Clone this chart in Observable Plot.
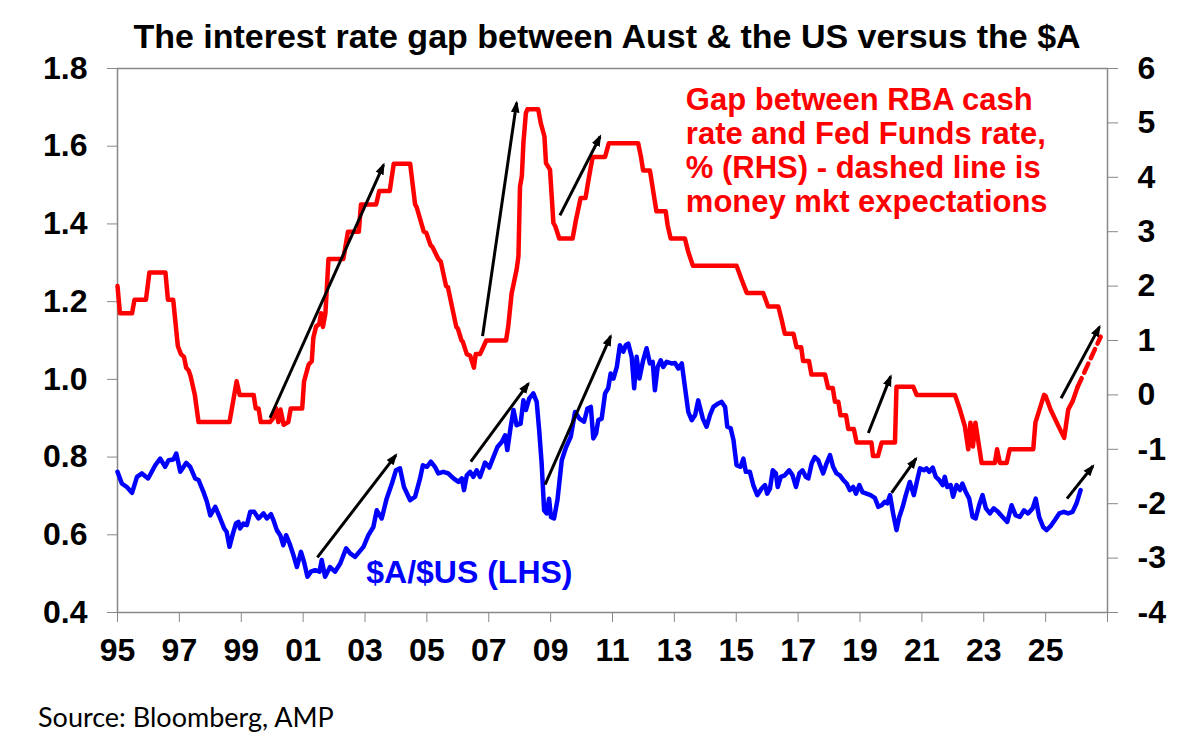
<!DOCTYPE html>
<html>
<head>
<meta charset="utf-8">
<script src="https://cdn.jsdelivr.net/npm/d3@7"></script>
<script src="https://cdn.jsdelivr.net/npm/@observablehq/plot@0.6"></script>
<style>
  body { margin: 0; background: #fff; }
  #wrap { position: relative; width: 1187px; height: 753px; overflow: hidden; background: #fff; }
  #title { position: absolute; left: 0; top: 19px; width: 1214px; text-align: center;
           font-family: "Liberation Sans", Arial, sans-serif; font-weight: bold; font-size: 34px; line-height: 34px; color: #000; }
  #chart { position: absolute; left: 0; top: 56px; }
  #source { position: absolute; left: 38px; top: 703px; font-family: Lato, "Open Sans", sans-serif;
            font-size: 27px; line-height: 27px; color: #000; }
</style>
</head>
<body>
<div id="wrap">
  <div id="title">The interest rate gap between Aust &amp; the US versus the $A</div>
  <div id="chart"></div>
  <div id="source">Source: Bloomberg, AMP</div>
</div>
<script>
// ---- Data ----
const leftTicks = [0.4, 0.6, 0.8, 1.0, 1.2, 1.4, 1.6, 1.8];
const rightTicks = [-4, -3, -2, -1, 0, 1, 2, 3, 4, 5, 6];
const xTicks = [1995, 1997, 1999, 2001, 2003, 2005, 2007, 2009, 2011, 2013, 2015, 2017, 2019, 2021, 2023, 2025, 2027];

// RBA cash rate minus Fed Funds rate, % (RHS)  [year, gap]
const rateGap = [
  [1995.00, 2.0], [1995.08, 1.5], [1995.47, 1.5], [1995.55, 1.75], [1995.92, 1.75], [1996.03, 2.25],
  [1996.55, 2.25], [1996.63, 1.75], [1996.80, 1.75], [1996.95, 0.9], [1997.05, 0.75], [1997.15, 0.7],
  [1997.22, 0.5], [1997.30, 0.45], [1997.36, 0.35], [1997.50, 0.0], [1997.62, -0.5], [1998.62, -0.5],
  [1998.85, 0.25], [1998.95, 0.0], [1999.40, 0.0], [1999.47, -0.25], [1999.56, -0.25], [1999.63, -0.5],
  [1999.93, -0.5], [2000.04, -0.42], [2000.12, -0.24], [2000.20, -0.5], [2000.27, -0.27], [2000.37, -0.55],
  [2000.52, -0.5], [2000.60, -0.25], [2000.97, -0.25], [2001.03, 0.25], [2001.18, 0.56], [2001.28, 0.62],
  [2001.33, 1.05], [2001.42, 1.26], [2001.52, 1.3], [2001.58, 1.5], [2001.64, 1.25], [2001.72, 1.5],
  [2001.82, 2.5], [2002.30, 2.5], [2002.45, 3.0], [2002.80, 3.0], [2002.87, 3.5], [2003.36, 3.5],
  [2003.46, 3.75], [2003.80, 3.75], [2003.93, 4.25], [2004.46, 4.25], [2004.62, 3.5], [2004.67, 3.45],
  [2004.90, 3.0], [2004.98, 2.98], [2005.12, 2.75], [2005.18, 2.72], [2005.37, 2.5], [2005.45, 2.45],
  [2005.62, 2.0], [2005.68, 1.98], [2005.95, 1.25], [2006.00, 1.22], [2006.12, 1.0], [2006.16, 0.98],
  [2006.29, 0.75], [2006.40, 0.72], [2006.52, 0.5], [2006.58, 0.75], [2006.72, 0.75], [2006.92, 1.0],
  [2007.56, 1.0], [2007.63, 1.26], [2007.74, 1.87], [2007.90, 2.3], [2007.96, 2.55], [2008.01, 3.83],
  [2008.07, 4.02], [2008.12, 4.63], [2008.20, 5.18], [2008.25, 5.25], [2008.60, 5.25], [2008.68, 5.0],
  [2008.80, 4.75], [2008.85, 4.26], [2008.98, 4.14], [2009.09, 3.16], [2009.15, 3.1], [2009.28, 2.875],
  [2009.71, 2.875], [2009.82, 3.22], [2009.97, 3.62], [2010.13, 3.62], [2010.20, 3.87], [2010.27, 4.1],
  [2010.36, 4.375], [2010.76, 4.375], [2010.88, 4.625], [2011.83, 4.625], [2011.92, 4.375], [2011.99, 4.125],
  [2012.21, 4.125], [2012.42, 3.375], [2012.72, 3.375], [2012.78, 3.125], [2012.88, 2.875], [2013.34, 2.875],
  [2013.45, 2.625], [2013.60, 2.375], [2015.01, 2.375], [2015.17, 2.125], [2015.34, 1.875], [2015.87, 1.875],
  [2016.03, 1.625], [2016.36, 1.625], [2016.47, 1.375], [2016.57, 1.125], [2016.85, 1.125], [2016.95, 0.875],
  [2017.10, 0.875], [2017.16, 0.625], [2017.35, 0.625], [2017.43, 0.375], [2017.87, 0.375], [2017.97, 0.125],
  [2018.12, 0.125], [2018.19, -0.125], [2018.30, -0.125], [2018.37, -0.375], [2018.55, -0.375], [2018.62, -0.625],
  [2018.80, -0.625], [2018.89, -0.875], [2019.37, -0.875], [2019.42, -1.125], [2019.58, -1.125], [2019.70, -0.875],
  [2020.13, -0.875], [2020.18, 0.15], [2020.72, 0.15], [2020.83, 0.0], [2022.07, 0.0], [2022.23, -0.27],
  [2022.39, -0.58], [2022.50, -1.0], [2022.57, -0.51], [2022.65, -0.95], [2022.73, -0.51], [2022.93, -1.25],
  [2023.36, -1.25], [2023.43, -1.0], [2023.52, -1.25], [2023.74, -1.25], [2023.84, -1.0], [2024.60, -1.0],
  [2024.67, -0.51], [2024.95, 0.0], [2025.00, -0.02], [2025.16, -0.27], [2025.36, -0.51], [2025.60, -0.79],
  [2025.73, -0.27], [2025.87, -0.12], [2026.03, 0.14]
];
// money market expectations (dashed)
const rateGapExpected = [[2026.03, 0.14], [2026.40, 0.6], [2026.78, 1.07]];

// $A/$US (LHS)  [year, rate]
const audUsd = [
  [1995.00, 0.762], [1995.14, 0.732], [1995.30, 0.723], [1995.47, 0.708], [1995.63, 0.749], [1995.79, 0.758],
  [1995.99, 0.745], [1996.22, 0.779], [1996.38, 0.796], [1996.54, 0.775], [1996.65, 0.792], [1996.81, 0.794],
  [1996.90, 0.809], [1997.03, 0.762], [1997.22, 0.785], [1997.35, 0.775], [1997.51, 0.745], [1997.62, 0.741],
  [1997.78, 0.71], [1997.89, 0.685], [1998.00, 0.65], [1998.16, 0.672], [1998.32, 0.642], [1998.45, 0.616],
  [1998.53, 0.607], [1998.62, 0.569], [1998.73, 0.603], [1998.83, 0.629], [1998.91, 0.633], [1998.96, 0.616],
  [1999.07, 0.629], [1999.18, 0.625], [1999.29, 0.659], [1999.42, 0.659], [1999.56, 0.642], [1999.72, 0.655],
  [1999.83, 0.642], [1999.96, 0.653], [2000.04, 0.638], [2000.15, 0.612], [2000.26, 0.599], [2000.36, 0.573],
  [2000.45, 0.599], [2000.56, 0.578], [2000.67, 0.552], [2000.80, 0.517], [2000.93, 0.556], [2001.03, 0.53],
  [2001.14, 0.492], [2001.25, 0.505], [2001.39, 0.509], [2001.53, 0.505], [2001.60, 0.535], [2001.71, 0.492],
  [2001.87, 0.517], [2002.03, 0.505], [2002.20, 0.526], [2002.39, 0.565], [2002.52, 0.552], [2002.68, 0.543],
  [2002.95, 0.569], [2003.11, 0.599], [2003.27, 0.62], [2003.38, 0.663], [2003.54, 0.642], [2003.70, 0.693],
  [2003.87, 0.732], [2004.00, 0.766], [2004.13, 0.771], [2004.26, 0.723], [2004.46, 0.689], [2004.62, 0.698],
  [2004.78, 0.745], [2004.87, 0.779], [2005.00, 0.775], [2005.13, 0.788], [2005.26, 0.775], [2005.37, 0.758],
  [2005.53, 0.762], [2005.69, 0.758], [2005.86, 0.745], [2006.02, 0.736], [2006.13, 0.745], [2006.20, 0.715],
  [2006.29, 0.753], [2006.40, 0.762], [2006.50, 0.749], [2006.61, 0.766], [2006.72, 0.749], [2006.88, 0.786],
  [2007.02, 0.773], [2007.15, 0.80], [2007.28, 0.826], [2007.42, 0.839], [2007.53, 0.856], [2007.60, 0.818],
  [2007.71, 0.878], [2007.80, 0.921], [2007.90, 0.882], [2008.03, 0.886], [2008.12, 0.946], [2008.20, 0.921],
  [2008.31, 0.951], [2008.44, 0.964], [2008.55, 0.942], [2008.63, 0.869], [2008.71, 0.784], [2008.79, 0.663],
  [2008.87, 0.655], [2008.95, 0.693], [2009.01, 0.646], [2009.11, 0.642], [2009.22, 0.689], [2009.36, 0.792],
  [2009.50, 0.826], [2009.65, 0.852], [2009.79, 0.916], [2009.93, 0.899], [2010.08, 0.891], [2010.19, 0.925],
  [2010.30, 0.929], [2010.38, 0.848], [2010.47, 0.861], [2010.54, 0.895], [2010.65, 0.899], [2010.76, 0.964],
  [2010.86, 0.977], [2010.94, 1.015], [2011.03, 1.002], [2011.14, 1.032], [2011.24, 1.088], [2011.35, 1.071],
  [2011.43, 1.088], [2011.51, 1.092], [2011.62, 1.058], [2011.70, 0.977], [2011.78, 1.058], [2011.87, 1.002],
  [2011.99, 1.049], [2012.10, 1.08], [2012.21, 1.041], [2012.30, 1.045], [2012.37, 0.972], [2012.46, 1.032],
  [2012.56, 1.049], [2012.64, 1.032], [2012.75, 1.045], [2012.91, 1.041], [2013.02, 1.042], [2013.13, 1.028],
  [2013.24, 1.041], [2013.34, 0.981], [2013.45, 0.916], [2013.56, 0.895], [2013.67, 0.908], [2013.77, 0.946],
  [2013.92, 0.899], [2014.04, 0.878], [2014.15, 0.908], [2014.26, 0.929], [2014.42, 0.938], [2014.53, 0.942],
  [2014.64, 0.929], [2014.71, 0.878], [2014.82, 0.874], [2014.91, 0.844], [2015.01, 0.779], [2015.14, 0.775],
  [2015.23, 0.796], [2015.31, 0.762], [2015.44, 0.762], [2015.55, 0.728], [2015.68, 0.702], [2015.82, 0.719],
  [2015.93, 0.728], [2016.00, 0.706], [2016.09, 0.719], [2016.18, 0.766], [2016.28, 0.758], [2016.34, 0.723],
  [2016.44, 0.749], [2016.57, 0.753], [2016.71, 0.766], [2016.82, 0.753], [2016.93, 0.723], [2017.04, 0.758],
  [2017.14, 0.766], [2017.25, 0.749], [2017.33, 0.745], [2017.44, 0.784], [2017.54, 0.80], [2017.65, 0.792],
  [2017.81, 0.758], [2017.92, 0.784], [2018.03, 0.805], [2018.13, 0.775], [2018.24, 0.758], [2018.35, 0.753],
  [2018.46, 0.741], [2018.57, 0.732], [2018.67, 0.715], [2018.78, 0.723], [2018.87, 0.706], [2018.98, 0.728],
  [2019.08, 0.71], [2019.21, 0.706], [2019.34, 0.702], [2019.48, 0.695], [2019.59, 0.672], [2019.70, 0.676],
  [2019.80, 0.685], [2019.88, 0.681], [2019.97, 0.702], [2020.07, 0.655], [2020.18, 0.612], [2020.27, 0.646],
  [2020.38, 0.672], [2020.48, 0.702], [2020.61, 0.736], [2020.74, 0.702], [2020.85, 0.741], [2020.94, 0.771],
  [2021.07, 0.766], [2021.15, 0.771], [2021.24, 0.762], [2021.35, 0.773], [2021.45, 0.749], [2021.56, 0.741],
  [2021.67, 0.728], [2021.74, 0.749], [2021.82, 0.723], [2021.93, 0.728], [2022.01, 0.698], [2022.12, 0.728],
  [2022.23, 0.715], [2022.31, 0.732], [2022.42, 0.71], [2022.53, 0.693], [2022.64, 0.646], [2022.74, 0.642],
  [2022.85, 0.676], [2022.96, 0.702], [2023.07, 0.668], [2023.20, 0.655], [2023.32, 0.668], [2023.46, 0.659],
  [2023.61, 0.646], [2023.76, 0.633], [2023.90, 0.676], [2024.03, 0.65], [2024.17, 0.646], [2024.30, 0.663],
  [2024.43, 0.655], [2024.58, 0.668], [2024.68, 0.693], [2024.79, 0.646], [2024.92, 0.62], [2025.03, 0.612],
  [2025.16, 0.622], [2025.30, 0.638], [2025.44, 0.655], [2025.59, 0.659], [2025.73, 0.655], [2025.87, 0.659],
  [2026.00, 0.681], [2026.13, 0.715]
];

// trend arrows: [x1, y1, x2, y2]
const arrowsRhs = [
  [1999.93, -0.42, 2003.60, 4.23],
  [2006.80, 1.08, 2007.90, 5.37],
  [2009.30, 3.30, 2010.60, 4.75],
  [2019.27, -0.70, 2019.99, 0.34],
  [2025.50, -0.06, 2026.74, 1.25]
];
const arrowsLhs = [
  [2001.46, 0.542, 2004.00, 0.805],
  [2006.42, 0.788, 2008.28, 0.989],
  [2008.82, 0.729, 2010.94, 1.111],
  [2020.02, 0.708, 2020.81, 0.796],
  [2025.69, 0.693, 2026.53, 0.777]
];

const labels = [
  { x: 2013.37, y: 1.59, text: "Gap between RBA cash\nrate and Fed Funds rate,\n% (RHS) - dashed line is\nmoney mkt expectations", color: "#ff0000", size: 31 },
  { x: 2003.04, y: 0.504, text: "$A/$US (LHS)", color: "#0000ff", size: 32 }
];

// ---- Chart ----
const toL = v => 0.4 + (v + 4) * 0.14;      // RHS value -> LHS scale
const fromL = v => Math.round((v - 0.4) / 0.14 - 4);

// filled triangular arrowhead marker
function headMarker(color, context) {
  const ns = "http://www.w3.org/2000/svg";
  const doc = (context && context.document) || document;
  const m = doc.createElementNS(ns, "marker");
  m.setAttribute("viewBox", "-5 -5 10 10");
  m.setAttribute("markerWidth", "4");
  m.setAttribute("markerHeight", "4");
  m.setAttribute("refX", "3");
  m.setAttribute("refY", "0");
  m.setAttribute("orient", "auto");
  m.setAttribute("markerUnits", "strokeWidth");
  const p = doc.createElementNS(ns, "path");
  p.setAttribute("d", "M-5,-3.6L5,0L-5,3.6Z");
  p.setAttribute("fill", color);
  p.setAttribute("stroke", "none");
  m.appendChild(p);
  return m;
}

const chart = Plot.plot({
  width: 1187,
  height: 606,
  marginTop: 12,
  marginBottom: 50,
  marginLeft: 117,
  marginRight: 80,
  x: { domain: [1995, 2027] },
  y: { domain: [0.4, 1.8] },
  style: { fontFamily: '"Liberation Sans", Arial, sans-serif', fontSize: "32px", fontWeight: "bold", color: "#000", background: "#fff", overflow: "visible" },
  marks: [
    Plot.frame({ stroke: "#888", strokeWidth: 1.5 }),
    Plot.axisY(leftTicks, { tickSize: 10, tickPadding: 20, tickFormat: d3.format(".1f"), stroke: "#888", label: null }),
    Plot.axisY(rightTicks.map(toL), { anchor: "right", tickSize: 10, tickPadding: 20, tickFormat: d => String(fromL(d)), stroke: "#888", label: null }),
    Plot.axisX(xTicks, { tickSize: 10, tickPadding: 16, tickFormat: d => d <= 2025 ? String(d).slice(2) : "", stroke: "#888", label: null }),
    Plot.line(audUsd, { x: d => d[0], y: d => d[1], stroke: "#0000ff", strokeWidth: 4.5, strokeLinejoin: "round" }),
    Plot.line(rateGap, { x: d => d[0], y: d => toL(d[1]), stroke: "#ff0000", strokeWidth: 4.5, strokeLinejoin: "round" }),
    Plot.line(rateGapExpected, { x: d => d[0], y: d => toL(d[1]), stroke: "#ff0000", strokeWidth: 4.5, strokeDasharray: "10,6" }),
    Plot.link(arrowsRhs, { x1: d => d[0], y1: d => toL(d[1]), x2: d => d[2], y2: d => toL(d[3]), stroke: "#000", strokeWidth: 3, markerEnd: headMarker }),
    Plot.link(arrowsLhs, { x1: d => d[0], y1: d => d[1], x2: d => d[2], y2: d => d[3], stroke: "#000", strokeWidth: 3, markerEnd: headMarker }),
    Plot.text(labels, { x: "x", y: "y", text: "text", fill: d => d.color, fontSize: d => d.size, textAnchor: "start", lineHeight: 1.1, fontWeight: "bold" })
  ]
});
document.getElementById("chart").appendChild(chart);
</script>
</body>
</html>
